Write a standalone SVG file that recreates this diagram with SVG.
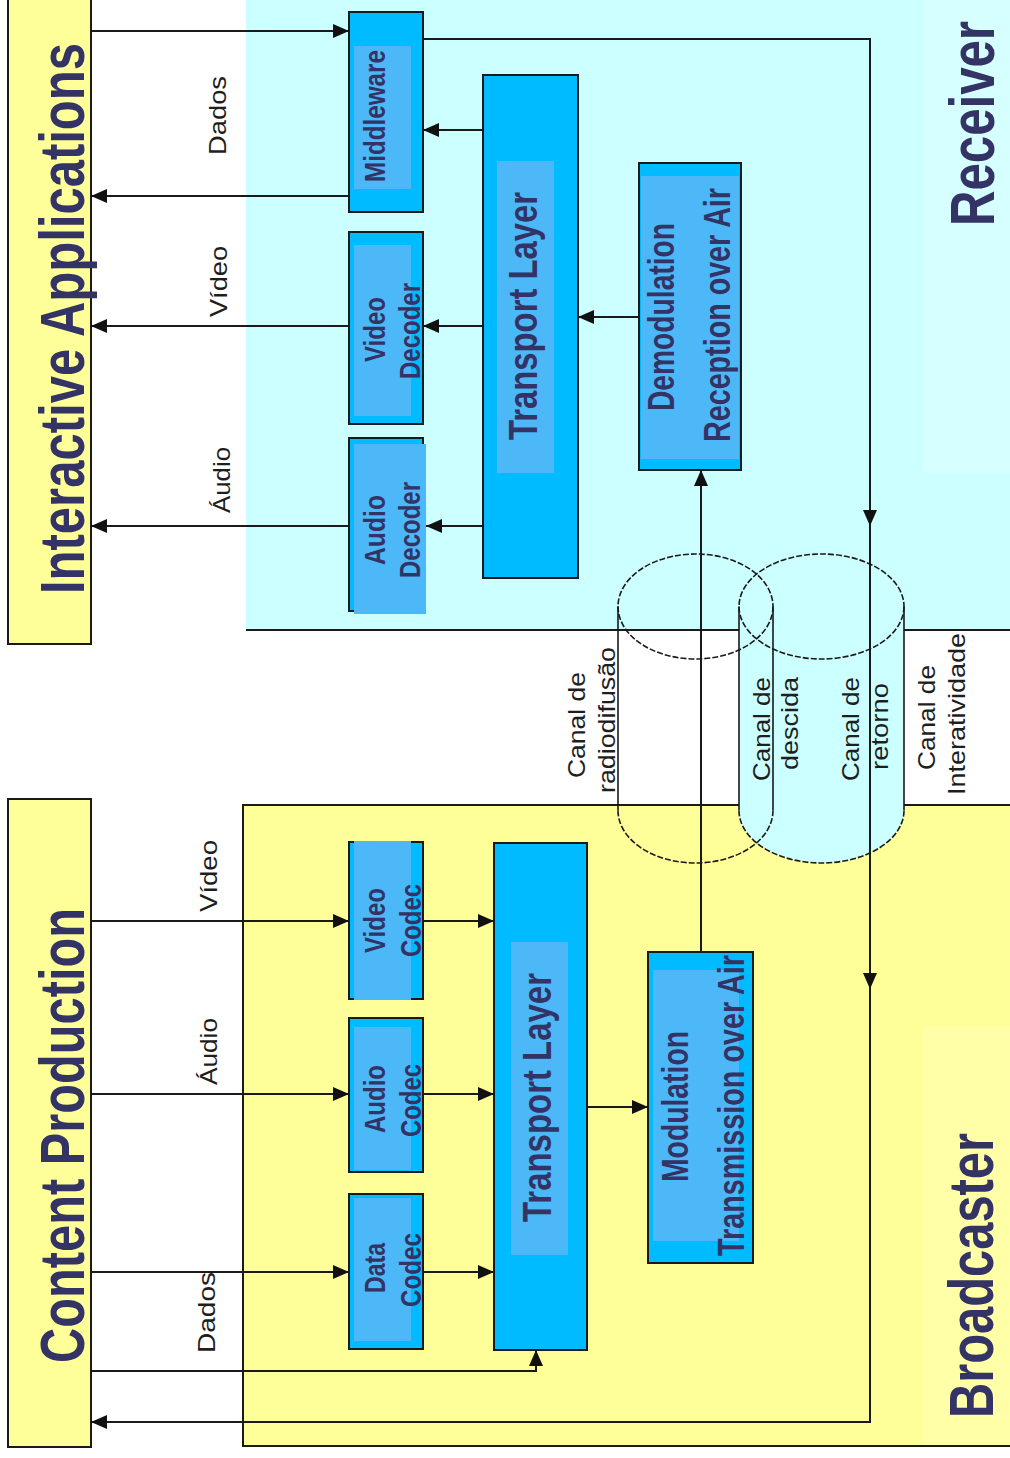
<svg xmlns="http://www.w3.org/2000/svg" width="1010" height="1458" viewBox="0 0 1010 1458">
<style>
.t{font-family:"Liberation Sans",Arial,sans-serif;font-weight:bold;fill:#333366}
.s{font-family:"Liberation Sans",Arial,sans-serif;font-size:24px;fill:#1e1e1e}
.box{fill:#00BBFF;stroke:#1a1a1a;stroke-width:2}
.in{fill:#4DB8F8}
.cn{fill:none;stroke:#1a1a1a;stroke-width:2}
.ln{fill:none;stroke:#1a1a1a;stroke-width:2}
.dash{fill:none;stroke:#1a1a1a;stroke-width:1.6;stroke-dasharray:6 2}
.side{fill:none;stroke:#1a1a1a;stroke-width:1.6}
</style>
<defs>
<marker id="a" markerUnits="userSpaceOnUse" markerWidth="16" markerHeight="16" viewBox="0 0 16 16" refX="16" refY="8" orient="auto">
<path d="M0,1 L16,8 L0,15 z" fill="#111"/>
</marker>
</defs>
<rect x="0" y="0" width="1010" height="1458" fill="#ffffff"/>

<g id="receiver">
<rect x="246" y="0" width="764" height="630" fill="#CCFFFF"/>
<rect x="923" y="0" width="87" height="473" fill="#D6FFFF"/>
<path class="ln" d="M246,630 H1010"/>
<text class="t" font-size="63" transform="translate(994,226) rotate(-90)" textLength="205" lengthAdjust="spacingAndGlyphs">Receiver</text>
</g>

<g id="broadcaster">
<rect x="243" y="805" width="767" height="641" fill="#FFFF99"/>
<rect x="923" y="1027" width="87" height="419" fill="#FFFFA8"/>
<path class="ln" d="M1010,805 H243 V1446 H1010"/>
<text class="t" font-size="63" transform="translate(993,1418) rotate(-90)" textLength="285" lengthAdjust="spacingAndGlyphs">Broadcaster</text>
</g>

<g id="interactive-applications">
<rect x="8" y="-2" width="83" height="646" fill="#FFFF99" stroke="#1a1a1a" stroke-width="2"/>
<text class="t" font-size="63" transform="translate(84,594) rotate(-90)" textLength="551" lengthAdjust="spacingAndGlyphs">Interactive Applications</text>
</g>

<g id="content-production">
<rect x="8" y="799" width="83" height="648" fill="#FFFF99" stroke="#1a1a1a" stroke-width="2"/>
<text class="t" font-size="63" transform="translate(84,1363) rotate(-90)" textLength="455" lengthAdjust="spacingAndGlyphs">Content Production</text>
</g>

<g id="channels">
<path d="M739,606.5 A82.5,52.5 0 0 1 904,606.5 V810.5 A82.5,52.5 0 0 1 739,810.5 Z" fill="#CCFFFF"/>
<ellipse class="dash" cx="695.5" cy="606.5" rx="77.5" ry="52.5"/>
<path class="side" d="M618,606.5 V810.5 M773,606.5 V810.5"/>
<path class="dash" d="M618,810.5 A77.5,52.5 0 0 0 773,810.5"/>
<ellipse class="dash" cx="821.5" cy="606.5" rx="82.5" ry="52.5"/>
<path class="side" d="M739,606.5 V810.5 M904,606.5 V810.5"/>
<path class="dash" d="M739,810.5 A82.5,52.5 0 0 0 904,810.5"/>
<text class="s" transform="translate(585,778) rotate(-90)" textLength="106" lengthAdjust="spacingAndGlyphs">Canal de</text>
<text class="s" transform="translate(615,793) rotate(-90)" textLength="146" lengthAdjust="spacingAndGlyphs">radiodifusão</text>
<text class="s" transform="translate(770,781) rotate(-90)" textLength="104" lengthAdjust="spacingAndGlyphs">Canal de</text>
<text class="s" transform="translate(798,770) rotate(-90)" textLength="93" lengthAdjust="spacingAndGlyphs">descida</text>
<text class="s" transform="translate(859,781) rotate(-90)" textLength="104" lengthAdjust="spacingAndGlyphs">Canal de</text>
<text class="s" transform="translate(888,770) rotate(-90)" textLength="87" lengthAdjust="spacingAndGlyphs">retorno</text>
<text class="s" transform="translate(935,770) rotate(-90)" textLength="105" lengthAdjust="spacingAndGlyphs">Canal de</text>
<text class="s" transform="translate(965,795) rotate(-90)" textLength="162" lengthAdjust="spacingAndGlyphs">Interatividade</text>
</g>

<g id="connectors">
<path class="cn" d="M91,31 H349" marker-end="url(#a)"/>
<path class="cn" d="M351,196 H91" marker-end="url(#a)"/>
<path class="cn" d="M483,130 H423" marker-end="url(#a)"/>
<path class="cn" d="M483,326 H423" marker-end="url(#a)"/>
<path class="cn" d="M349,326 H91" marker-end="url(#a)"/>
<path class="cn" d="M483,526 H426" marker-end="url(#a)"/>
<path class="cn" d="M349,526 H91" marker-end="url(#a)"/>
<path class="cn" d="M640,317 H578" marker-end="url(#a)"/>
<path class="cn" d="M423,39 H870 V1422 H91" marker-end="url(#a)"/>
<path class="cn" d="M870,505 V526" marker-end="url(#a)"/>
<path class="cn" d="M870,968 V989" marker-end="url(#a)"/>
<path class="cn" d="M701,952 V470" marker-end="url(#a)"/>
<path class="cn" d="M91,921 H349" marker-end="url(#a)"/>
<path class="cn" d="M423,921 H494" marker-end="url(#a)"/>
<path class="cn" d="M91,1094 H349" marker-end="url(#a)"/>
<path class="cn" d="M423,1094 H494" marker-end="url(#a)"/>
<path class="cn" d="M91,1272 H349" marker-end="url(#a)"/>
<path class="cn" d="M423,1272 H494" marker-end="url(#a)"/>
<path class="cn" d="M91,1371 H536 V1350" marker-end="url(#a)"/>
<path class="cn" d="M587,1107 H648" marker-end="url(#a)"/>
<text class="s" transform="translate(226,155) rotate(-90)" textLength="79" lengthAdjust="spacingAndGlyphs">Dados</text>
<text class="s" transform="translate(227,317) rotate(-90)" textLength="71" lengthAdjust="spacingAndGlyphs">Vídeo</text>
<text class="s" transform="translate(230,513) rotate(-90)" textLength="66" lengthAdjust="spacingAndGlyphs">Áudio</text>
<text class="s" transform="translate(217,912) rotate(-90)" textLength="72" lengthAdjust="spacingAndGlyphs">Vídeo</text>
<text class="s" transform="translate(217,1085) rotate(-90)" textLength="67" lengthAdjust="spacingAndGlyphs">Áudio</text>
<text class="s" transform="translate(215,1353) rotate(-90)" textLength="81" lengthAdjust="spacingAndGlyphs">Dados</text>
</g>

<g id="middleware">
<rect class="box" x="349" y="12" width="74" height="200"/>
<rect class="in" x="354" y="46" width="57" height="143"/>
<text class="t" font-size="30" transform="translate(385,182) rotate(-90)" textLength="132" lengthAdjust="spacingAndGlyphs">Middleware</text>
</g>

<g id="video-decoder">
<rect class="box" x="349" y="232" width="74" height="192"/>
<rect class="in" x="354" y="245" width="57" height="171"/>
<text class="t" font-size="30" transform="translate(385,362) rotate(-90)" textLength="65" lengthAdjust="spacingAndGlyphs">Video</text>
<text class="t" font-size="30" transform="translate(420,379) rotate(-90)" textLength="96" lengthAdjust="spacingAndGlyphs">Decoder</text>
</g>

<g id="audio-decoder">
<rect class="box" x="349" y="438" width="74" height="173"/>
<rect class="in" x="354" y="444" width="72" height="170"/>
<text class="t" font-size="30" transform="translate(385,565) rotate(-90)" textLength="70" lengthAdjust="spacingAndGlyphs">Audio</text>
<text class="t" font-size="30" transform="translate(420,578) rotate(-90)" textLength="96" lengthAdjust="spacingAndGlyphs">Decoder</text>
</g>

<g id="transport-layer-receiver">
<rect class="box" x="483" y="75" width="95" height="503"/>
<rect class="in" x="497" y="161" width="57" height="312"/>
<text class="t" font-size="40" transform="translate(537,440) rotate(-90)" textLength="248" lengthAdjust="spacingAndGlyphs">Transport Layer</text>
</g>

<g id="demodulation">
<rect class="box" x="639" y="163" width="102" height="307"/>
<rect class="in" x="641" y="176" width="98" height="283"/>
<text class="t" font-size="36" transform="translate(674,411) rotate(-90)" textLength="188" lengthAdjust="spacingAndGlyphs">Demodulation</text>
<text class="t" font-size="36" transform="translate(730,442) rotate(-90)" textLength="254" lengthAdjust="spacingAndGlyphs">Reception over Air</text>
</g>

<g id="video-codec">
<rect class="box" x="349" y="842" width="74" height="157"/>
<rect class="in" x="354" y="841" width="57" height="159"/>
<text class="t" font-size="30" transform="translate(385,953) rotate(-90)" textLength="65" lengthAdjust="spacingAndGlyphs">Video</text>
<text class="t" font-size="30" transform="translate(421,957) rotate(-90)" textLength="73" lengthAdjust="spacingAndGlyphs">Codec</text>
</g>

<g id="audio-codec">
<rect class="box" x="349" y="1018" width="74" height="154"/>
<rect class="in" x="354" y="1027" width="57" height="143"/>
<text class="t" font-size="30" transform="translate(385,1133) rotate(-90)" textLength="68" lengthAdjust="spacingAndGlyphs">Audio</text>
<text class="t" font-size="30" transform="translate(421,1137) rotate(-90)" textLength="73" lengthAdjust="spacingAndGlyphs">Codec</text>
</g>

<g id="data-codec">
<rect class="box" x="349" y="1194" width="74" height="155"/>
<rect class="in" x="354" y="1198" width="57" height="143"/>
<text class="t" font-size="30" transform="translate(385,1293) rotate(-90)" textLength="50" lengthAdjust="spacingAndGlyphs">Data</text>
<text class="t" font-size="30" transform="translate(421,1307) rotate(-90)" textLength="74" lengthAdjust="spacingAndGlyphs">Codec</text>
</g>

<g id="transport-layer-broadcaster">
<rect class="box" x="494" y="843" width="93" height="507"/>
<rect class="in" x="511" y="942" width="57" height="313"/>
<text class="t" font-size="40" transform="translate(551,1222) rotate(-90)" textLength="249" lengthAdjust="spacingAndGlyphs">Transport Layer</text>
</g>

<g id="modulation">
<rect class="box" x="648" y="952" width="105" height="311"/>
<rect class="in" x="653" y="970" width="86" height="271"/>
<text class="t" font-size="36" transform="translate(688,1182) rotate(-90)" textLength="151" lengthAdjust="spacingAndGlyphs">Modulation</text>
<text class="t" font-size="36" transform="translate(744,1256) rotate(-90)" textLength="301" lengthAdjust="spacingAndGlyphs">Transmission over Air</text>
</g>
</svg>
